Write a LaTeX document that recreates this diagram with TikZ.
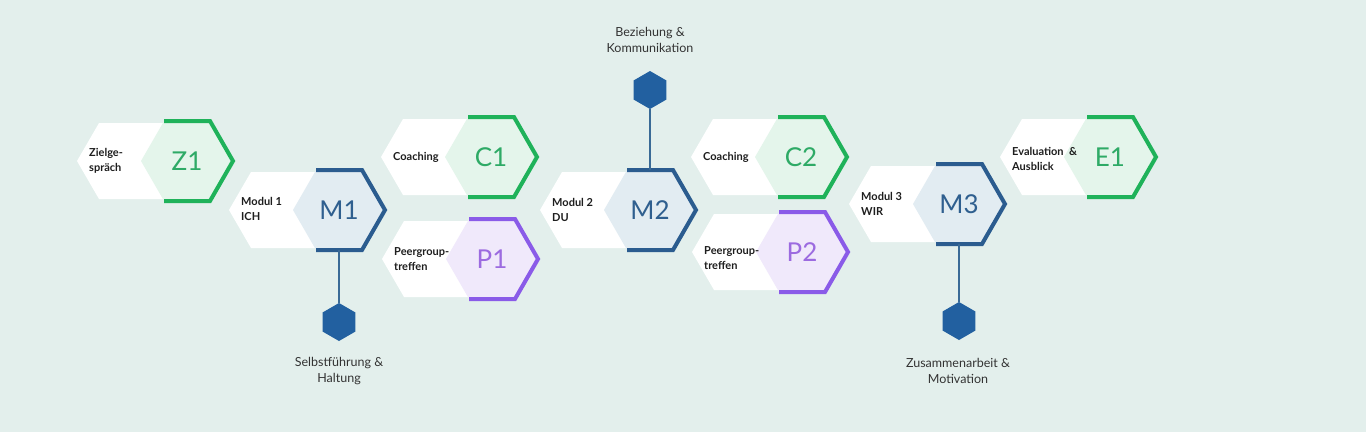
\documentclass[tikz,border=0pt]{standalone}
\usepackage{fontspec}
\setmainfont{Lato}
\usetikzlibrary{shapes.geometric}
\definecolor{bgcol}{HTML}{E3EFEC}
\definecolor{gline}{HTML}{1FB25A}
\definecolor{gtext}{HTML}{2EAA66}
\definecolor{gfill}{HTML}{E4F5EB}
\definecolor{bline}{HTML}{2B5C8F}
\definecolor{btext}{HTML}{2F5F8F}
\definecolor{bfill}{HTML}{E2ECF2}
\definecolor{pline}{HTML}{8A5BE8}
\definecolor{ptext}{HTML}{9C6BE0}
\definecolor{pfill}{HTML}{F0E9FB}
\definecolor{hexblue}{HTML}{2260A0}
\definecolor{connblue}{HTML}{3A6A96}
\definecolor{txtdark}{HTML}{1E1E1E}
\definecolor{txtgrey}{HTML}{333333}
\tikzset{
  whitehex/.style={fill=white},
  bighex/.style={regular polygon, regular polygon sides=6, minimum size=92, inner sep=0pt, outer sep=0pt, font=\fontsize{26}{30}\selectfont},
  smalltxt/.style={anchor=west, align=left, inner sep=0pt, text=txtdark, font=\bfseries\fontsize{11}{14.5}\selectfont},
  minihex/.style={regular polygon, regular polygon sides=6, shape border rotate=30, minimum size=38, inner sep=0pt, outer sep=0pt, fill=hexblue},
  annot/.style={align=center, inner sep=0pt, text=txtgrey, font=\fontsize{12.5}{16}\selectfont},
  conn/.style={draw=connblue, line width=1.1pt},
}
\newcommand\stagehex[7]{%
  \path[whitehex] (#2-110,#3) -- (#2-88,#3-38) -- (#2-20,#3-38) -- (#2+2,#3) -- (#2-20,#3+38) -- (#2-88,#3+38) -- cycle;
  \node[bighex, fill=#4fill, text=#4text] (#1) at (#2,#3) {#5};
  \draw[line width=4pt, draw=#4line, line join=miter] ([shift={(-23,-40)}]#1.center) -- ++(46,0) -- ++(23,40) -- ++(-23,40) -- ++(-46,0);
  \node[smalltxt] (#1t) at (#2-98,#3+#7) {#6};
}
\begin{document}
\begin{tikzpicture}[x=1pt,y=-1pt]
\fill[bgcol] (0,0) rectangle (1366,432);
\useasboundingbox (0,0) rectangle (1366,432);
\stagehex{z1}{187}{161}{g}{Z1}{Zielge-\\spräch}{0}
\stagehex{m1}{339}{210}{b}{M1}{Modul 1\\ICH}{-1}
\stagehex{c1}{491}{157}{g}{C1}{Coaching}{0}
\stagehex{p1}{492}{259}{p}{P1}{Peergroup-\\treffen}{0}
\stagehex{m2}{650}{210}{b}{M2}{Modul 2\\DU}{0}
\stagehex{c2}{801}{157}{g}{C2}{Coaching}{0}
\stagehex{p2}{802}{252}{p}{P2}{Peergroup-\\treffen}{6}
\stagehex{m3}{959}{204}{b}{M3}{Modul 3\\WIR}{0}
\stagehex{e1}{1110}{157}{g}{E1}{Evaluation \ \&\\Ausblick}{2}
\node[minihex] (s1) at (339,322) {};
\node[minihex] (s2) at (650,90) {};
\node[minihex] (s3) at (959,321) {};
\draw[conn] (m1.south) -- (s1.north);
\draw[conn] (m2.north) -- (s2.south);
\draw[conn] (m3.south) -- (s3.north);
\node[annot] (a1) at (339,371) {Selbstführung \&\\Haltung};
\node[annot] (a2) at (650,40) {Beziehung \&\\Kommunikation};
\node[annot] (a3) at (958,371) {Zusammenarbeit \&\\Motivation};
\end{tikzpicture}
\end{document}
